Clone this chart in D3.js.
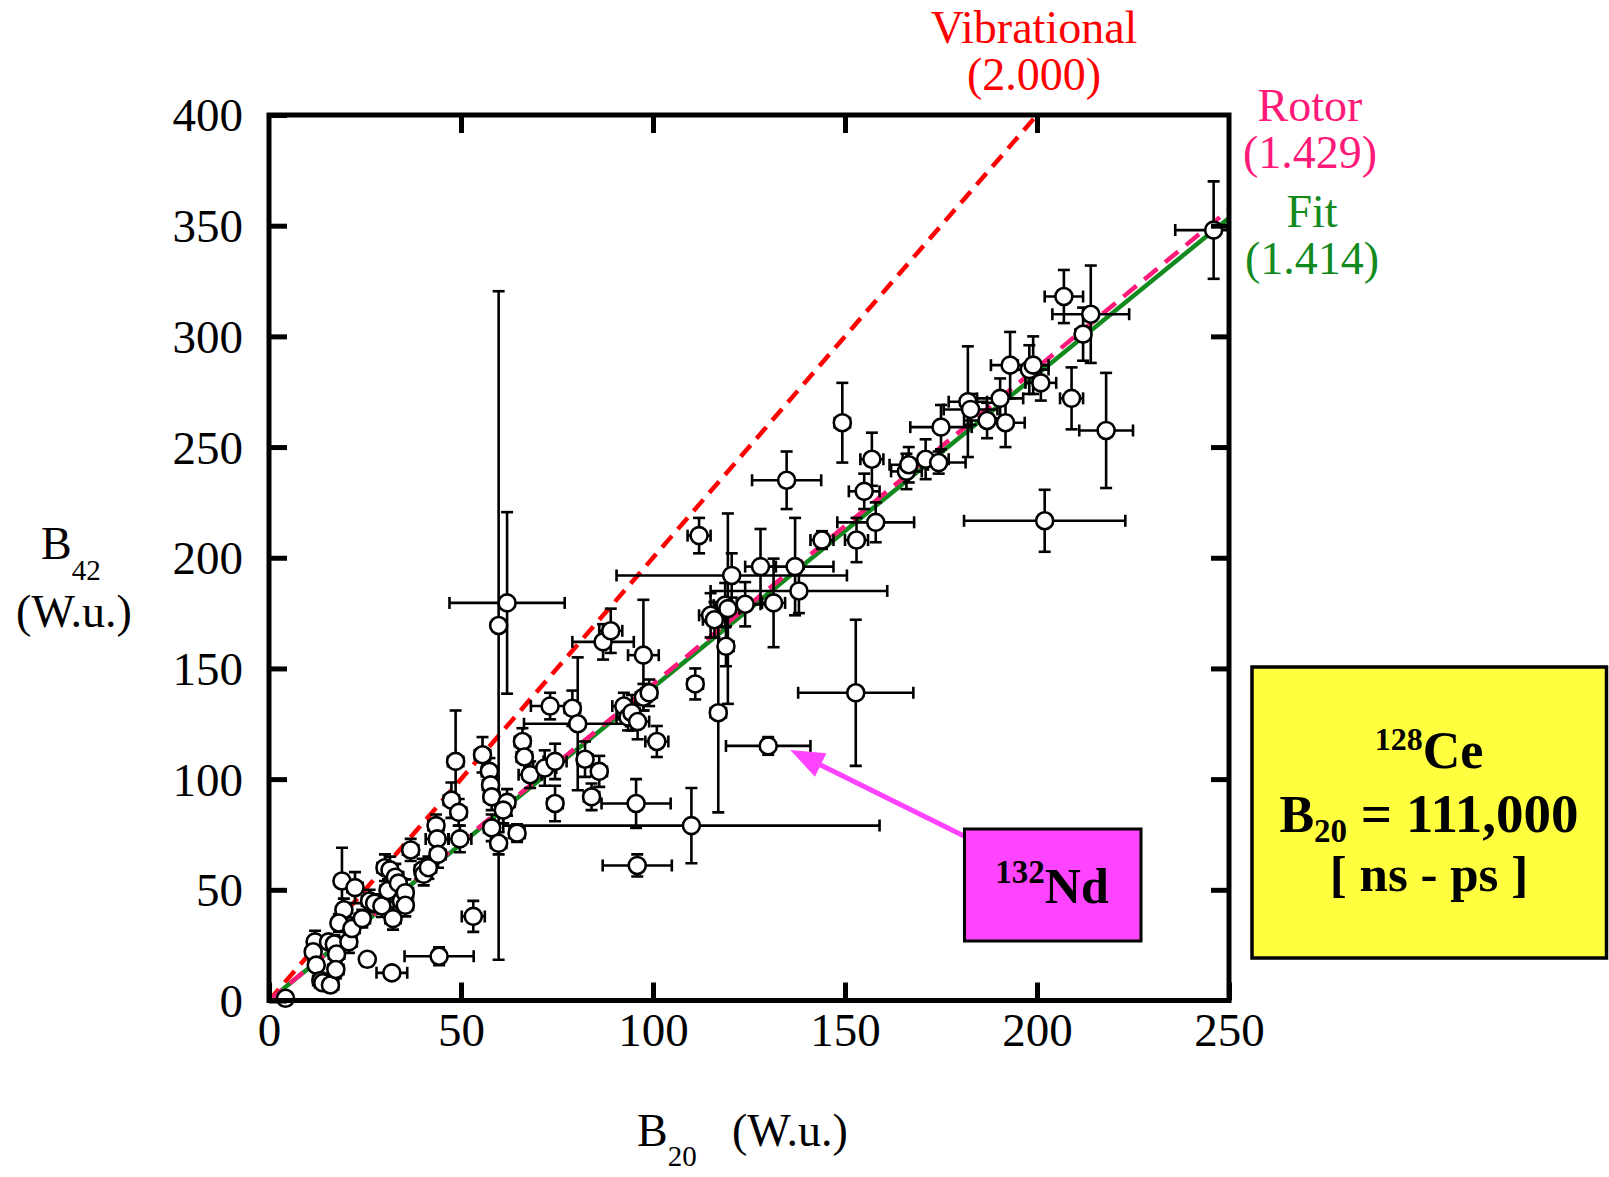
<!DOCTYPE html>
<html>
<head>
<meta charset="utf-8">
<script src="https://cdn.jsdelivr.net/npm/d3@7"></script>
<style>
  html, body { margin: 0; padding: 0; background: #fff; }
  svg { display: block; font-family: "Liberation Serif", "Times New Roman", serif; }
</style>
</head>
<body>
<svg id="chart" width="1609" height="1177"></svg>
<script>
// B(E2; 2->0) vs B(E2; 4->2), W.u.
const b20 = [4.3, 12, 11.5, 12.3, 13.5, 14, 16, 15.5, 17, 17.6, 17.4, 19, 19.5, 18.2, 20.8, 21.6, 22.4, 24.3, 25.6, 26.2,
  27.5, 29.4, 30.2, 31, 31.5, 32.3, 32.9, 33.7, 34.5, 35.5, 35.5, 36.9, 32, 40, 40.3, 41.5, 43.5, 43.8, 44, 44.3,
  47.5, 48.6, 49.4, 49.7, 53.2, 55.6, 57.4, 57.7, 58, 58, 59.8, 59.8, 62, 62, 61, 64.6, 66, 66.5, 68, 71.8,
  73.2, 74.5, 74.5, 79, 80.4, 82.3, 84, 86, 87, 89, 95.6, 97.5, 92.4, 93.5, 94.5, 96, 97.5, 99, 101, 95.9,
  110, 111, 112, 117, 115, 116, 118.8, 119, 119.5, 120.5, 124, 128, 130, 131.4, 134.8, 137, 138, 144, 149.3, 152.8,
  153, 155, 157, 158, 166, 166.6, 171, 174.4, 175, 182, 182.7, 187, 190.4, 191.8, 193, 198, 199, 201, 202, 207,
  209, 212, 214, 218, 246];
const b42 = [1, 26.5, 22, 16, 9, 8, 7, 26.5, 25.5, 21, 14, 54, 41, 35, 26.5, 32.5, 51, 37, 18.6, 45,
  44, 42.7, 60, 49.7, 59, 37, 55.7, 53, 45, 48.7, 43, 68, 12.5, 59, 57, 60, 79, 73, 66, 20,
  90.5, 108, 85, 73, 38, 111, 103.5, 97.4, 92, 78, 71, 169.4, 179.6, 89.5, 86, 75.6, 117, 110, 102, 105,
  133, 108, 89, 132, 125, 109, 92, 103.5, 162, 167, 89, 156, 133, 128, 130, 126, 137, 139, 117, 61,
  79, 143, 210, 130, 174, 172, 178.6, 160, 177, 192, 179, 196, 115, 179.6, 235, 196, 185, 208, 261, 139,
  208, 230, 244.5, 216, 239, 242, 244.5, 243, 259, 270.5, 267, 262, 272, 261, 287, 285, 287, 279, 216.7, 318,
  272, 301, 310, 257.5, 348];
const b20Err = [0, 1.5, 1, 1.5, 2, 2, 2, 1.5, 1.5, 2, 2, 1.5, 1.5, 1.5, 2, 2, 2, 2, 1.5, 2,
  2, 2, 2, 2, 2, 2, 2, 2, 2, 2, 2, 2, 4, 2, 2, 2, 2, 3, 2, 9,
  2, 2, 2, 3, 3, 2, 2, 2, 2, 2, 2, 0, 15, 2, 2, 2, 2, 2, 3, 3,
  5, 3, 2, 2, 14, 2, 2, 2, 8, 3, 9, 4, 3, 3, 2, 3, 2, 2, 3, 9,
  49, 2, 3, 2, 3, 3, 3, 2, 3, 30, 4, 4, 11, 3, 9, 10, 23, 3, 2, 15,
  3, 4, 3, 10, 4, 5, 6, 7, 8, 5, 7, 6, 6, 5, 5, 5, 4, 4, 21, 5,
  3, 2, 10, 7, 10];
const b42Err = [0, 5, 4, 3, 3, 3, 3, 3, 4, 4, 4, 15, 5, 4, 5, 5, 7, 4, 3, 5,
  4, 5, 6, 5, 6, 5, 6, 5, 5, 6, 5, 5, 2, 5, 5, 5, 5, 6, 6, 4,
  8, 23, 6, 6, 7, 8, 6, 6, 6, 6, 5, 151, 41, 6, 6, 4, 6, 8, 6, 8,
  6, 8, 8, 8, 30, 8, 6, 7, 8, 10, 11, 25, 6, 6, 8, 8, 6, 6, 7, 5,
  17, 7, 8, 45, 10, 8, 10, 9, 43, 10, 10, 17, 4, 20, 13, 22, 10, 4, 18, 33,
  10, 8, 12, 9, 8, 8, 9, 5, 10, 25, 7, 8, 9, 11, 15, 11, 13, 8, 14, 12,
  14, 12, 22, 26, 22];

const xTicks = [0, 50, 100, 150, 200, 250];
const yTicks = [0, 50, 100, 150, 200, 250, 300, 350, 400];

// reference lines B42 = ratio * B20
const lineNames = ["Vibrational", "Rotor", "Fit"];
const lineRatios = [2.000, 1.429, 1.414];
const lineEnds = [200, 250, 250];

// highlighted nucleus
const ndPoint = [130, 115];

const svg = d3.select("#chart");
const x = d3.scaleLinear().domain([0, 250]).range([269, 1229]);
const y = d3.scaleLinear().domain([0, 400]).range([1000.5, 115]);

svg.append("clipPath").attr("id", "plot-clip")
  .append("rect")
  .attr("x", x(0)).attr("y", y(400))
  .attr("width", x(250) - x(0)).attr("height", y(0) - y(400));

// model lines
const lineColors = ["#ff0000", "#ff1a7a", "#128a1e"];
const lineGen = d3.line().x(d => x(d[0])).y(d => y(d[1]));
const order = [0, 2, 1];  // green under pink
order.forEach(i => {
  svg.append("path")
    .attr("d", lineGen([[0, 0], [lineEnds[i], lineEnds[i] * lineRatios[i]]]))
    .attr("fill", "none")
    .attr("stroke", lineColors[i])
    .attr("stroke-width", 4.5)
    .attr("stroke-dasharray", i === 2 ? null : (i === 0 ? "15,9" : "17,10"));
});

// error bars
const pts = b20.map((v, i) => ({ x: v, y: b42[i], dx: b20Err[i], dy: b42Err[i] }));
const cap = 6;
const eb = svg.append("g").attr("clip-path", "url(#plot-clip)")
  .attr("stroke", "#000").attr("stroke-width", 2.6);
pts.forEach(p => {
  if (p.dy > 0) {
    eb.append("line").attr("x1", x(p.x)).attr("x2", x(p.x)).attr("y1", y(p.y - p.dy)).attr("y2", y(p.y + p.dy));
    [p.y - p.dy, p.y + p.dy].forEach(v => {
      eb.append("line").attr("x1", x(p.x) - cap).attr("x2", x(p.x) + cap).attr("y1", y(v)).attr("y2", y(v));
    });
  }
  if (p.dx > 0) {
    eb.append("line").attr("y1", y(p.y)).attr("y2", y(p.y)).attr("x1", x(p.x - p.dx)).attr("x2", x(p.x + p.dx));
    [p.x - p.dx, p.x + p.dx].forEach(v => {
      eb.append("line").attr("y1", y(p.y) - cap).attr("y2", y(p.y) + cap).attr("x1", x(v)).attr("x2", x(v));
    });
  }
});

svg.append("g").selectAll("circle")
  .data(pts)
  .enter().append("circle")
  .attr("cx", d => x(d.x))
  .attr("cy", d => y(d.y))
  .attr("r", 8.5)
  .attr("fill", "#fff")
  .attr("stroke", "#000")
  .attr("stroke-width", 2.6);

// frame + inward ticks
svg.append("rect")
  .attr("x", x(0)).attr("y", y(400))
  .attr("width", x(250) - x(0)).attr("height", y(0) - y(400))
  .attr("fill", "none").attr("stroke", "#000").attr("stroke-width", 5);

function styleAxis(g) {
  g.select(".domain").remove();
  g.selectAll(".tick line").attr("stroke", "#000").attr("stroke-width", 5);
  g.selectAll("text").attr("font-size", 47).attr("fill", "#000").attr("font-family", "Liberation Serif");
}
const tk = 18;
svg.append("g").attr("transform", `translate(0,${y(0)})`)
  .call(d3.axisBottom(x).tickValues(xTicks).tickSize(-tk).tickPadding(0))
  .call(styleAxis)
  .selectAll("text").attr("y", 45).attr("dy", 0);
svg.append("g").attr("transform", `translate(0,${y(400)})`)
  .call(d3.axisTop(x).tickValues(xTicks.slice(1, -1)).tickSize(-tk).tickFormat(""))
  .call(styleAxis);
svg.append("g").attr("transform", `translate(${x(0)},0)`)
  .call(d3.axisLeft(y).tickValues(yTicks).tickSize(-tk).tickPadding(0))
  .call(styleAxis)
  .selectAll("text").attr("x", -26).attr("dy", "0.34em");
svg.append("g").attr("transform", `translate(${x(250)},0)`)
  .call(d3.axisRight(y).tickValues(yTicks.slice(1, -1)).tickSize(-tk).tickFormat(""))
  .call(styleAxis);

// axis titles
const xt = svg.append("text").attr("x", 637).attr("y", 1146).attr("font-size", 46);
xt.append("tspan").text("B");
xt.append("tspan").attr("font-size", 29).attr("dy", 20).text("20");
xt.append("tspan").attr("dy", -20).attr("x", 732).text("(W.u.)");

const yt = svg.append("text").attr("x", 41).attr("y", 559).attr("font-size", 46);
yt.append("tspan").text("B");
yt.append("tspan").attr("font-size", 29).attr("dy", 21).text("42");
svg.append("text").attr("x", 74).attr("y", 627).attr("font-size", 46)
  .attr("text-anchor", "middle").text("(W.u.)");

// line labels
const labelPos = [[1034, 43, 90], [1310, 121, 168], [1312, 227, 274]];
lineNames.forEach((n, i) => {
  svg.append("text").attr("x", labelPos[i][0]).attr("y", labelPos[i][1])
    .attr("font-size", 46).attr("text-anchor", "middle").attr("fill", lineColors[i]).text(n);
  svg.append("text").attr("x", labelPos[i][0]).attr("y", labelPos[i][2])
    .attr("font-size", 46).attr("text-anchor", "middle").attr("fill", lineColors[i])
    .text("(" + lineRatios[i].toFixed(3) + ")");
});

// 132Nd callout
const magenta = "#ff44ff";
const tipX = x(ndPoint[0]) + 22, tipY = y(ndPoint[1]) + 4;
const tailX = 964, tailY = 836;
const ang = Math.atan2(tailY - tipY, tailX - tipX);
const hl = 34, hw = 13;
svg.append("line")
  .attr("x1", tailX).attr("y1", tailY)
  .attr("x2", tipX + Math.cos(ang) * (hl - 4)).attr("y2", tipY + Math.sin(ang) * (hl - 4))
  .attr("stroke", magenta).attr("stroke-width", 5);
const bx = tipX + Math.cos(ang) * hl, by = tipY + Math.sin(ang) * hl;
svg.append("path")
  .attr("d", `M${tipX},${tipY}L${bx - Math.sin(ang) * hw},${by + Math.cos(ang) * hw}L${bx + Math.sin(ang) * hw},${by - Math.cos(ang) * hw}Z`)
  .attr("fill", magenta);
svg.append("rect").attr("x", 964.5).attr("y", 829).attr("width", 176.5).attr("height", 112)
  .attr("fill", magenta).attr("stroke", "#000").attr("stroke-width", 3);
const nd = svg.append("text").attr("x", 1052).attr("y", 903).attr("text-anchor", "middle")
  .attr("font-weight", "bold").attr("font-size", 50);
nd.append("tspan").attr("font-size", 33).attr("dy", -20).text("132");
nd.append("tspan").attr("dy", 20).text("Nd");

// info box
svg.append("rect").attr("x", 1252).attr("y", 667).attr("width", 354.5).attr("height", 291)
  .attr("fill", "#ffff40").attr("stroke", "#000").attr("stroke-width", 3.5);
const bxC = 1429;
const t1 = svg.append("text").attr("x", bxC).attr("y", 768).attr("text-anchor", "middle")
  .attr("font-weight", "bold").attr("font-size", 52);
t1.append("tspan").attr("font-size", 32).attr("dy", -18).text("128");
t1.append("tspan").attr("dy", 18).text("Ce");
const t2 = svg.append("text").attr("x", bxC).attr("y", 832).attr("text-anchor", "middle")
  .attr("font-weight", "bold").attr("font-size", 52);
t2.append("tspan").text("B");
t2.append("tspan").attr("font-size", 33).attr("dy", 10).text("20");
t2.append("tspan").attr("dy", -10).attr("font-size", 55).text(" = 111,000");
svg.append("text").attr("x", bxC).attr("y", 891).attr("text-anchor", "middle")
  .attr("font-weight", "bold").attr("font-size", 51).text("[ ns - ps ]");
</script>
</body>
</html>
